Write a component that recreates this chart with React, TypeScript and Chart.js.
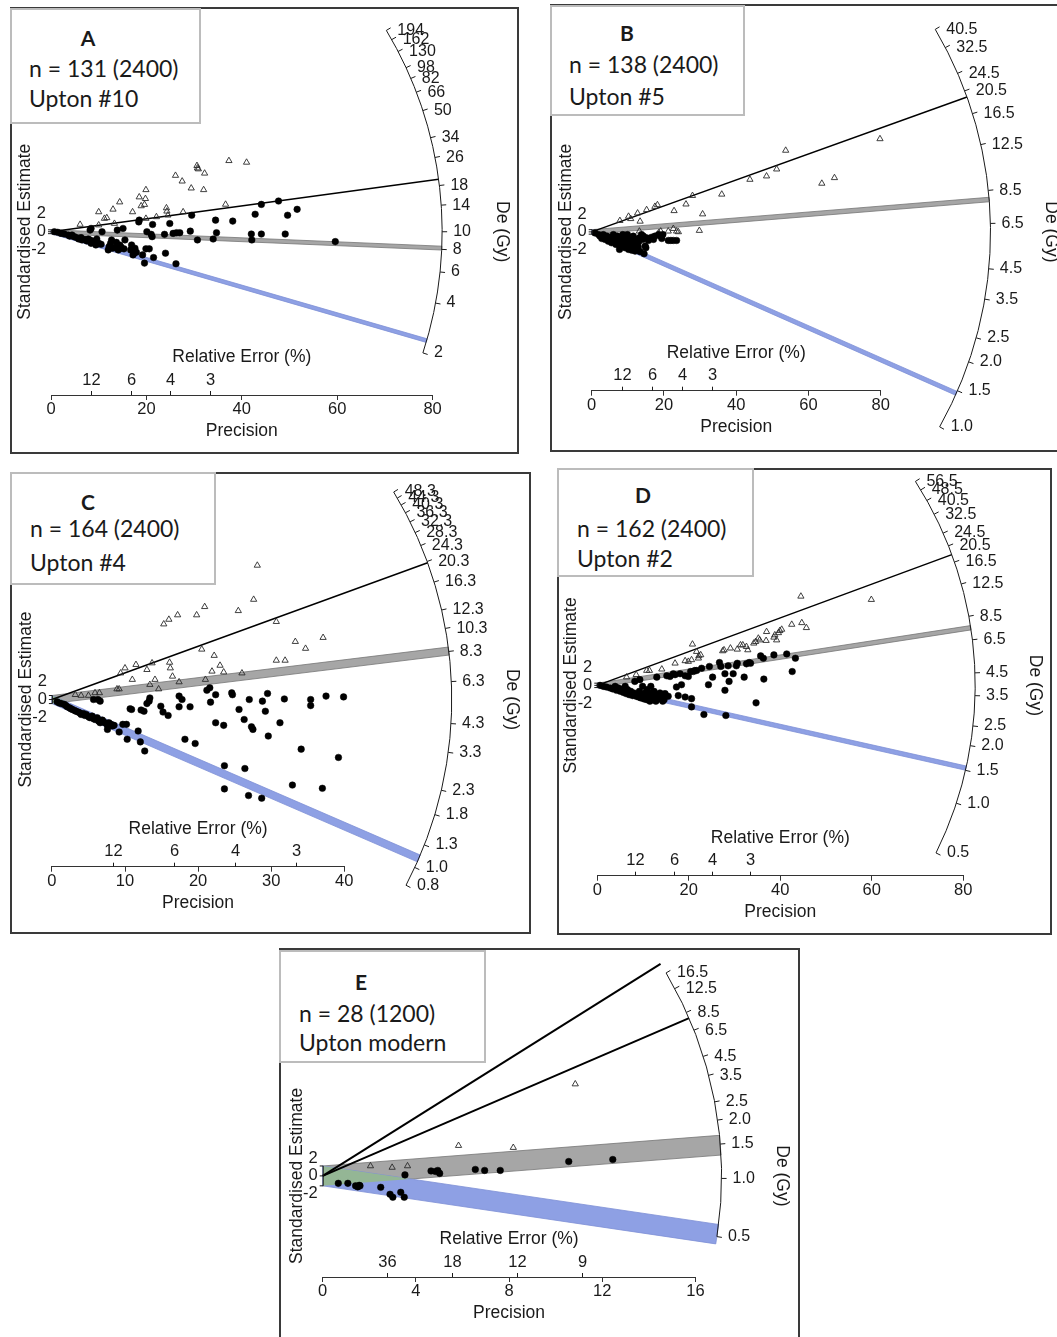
import React, { useEffect, useRef } from 'react';
import { Chart, registerables } from 'chart.js';

Chart.register(...registerables);

type Pt = [number, number];

// ---------------- Panel A ----------------
const A_TITLE = 'A';
const A_N = 'n = 131 (2400)';
const A_SITE = 'Upton #10';
const A_CIRCLES: Pt[] = [
  [0.7, 0], [1.4, -0.6], [2.1, -1.7], [2.8, -2.4], [3.6, -3.4], [3.9, -4.5], [4.4, -3.4], [4.8, -5.1], [5.3, -5.9],
  [5.8, -7.5], [6.3, -6.1], [6.5, -8.5], [7.1, -7.9], [7.5, -9.6], [7.8, -7.5], [8.2, -8.5], [8.4, -12.0], [8.7, -10.2],
  [9.1, -9.6], [9.4, -13.7], [9.6, -7.5], [10.0, -12.0], [10.5, -13.0], [10.7, 0], [8.2, 1.7], [8.4, 3.4], [12.0, -18.8],
  [12.2, -15.4], [12.5, -12.0], [12.7, -8.5], [12.9, -17.1], [13.4, -16.4], [13.7, -11.0], [13.9, 1.7], [14.1, -18.8],
  [14.4, -13.7], [14.6, -15.4], [14.8, -17.1], [15.1, 3.4], [15.3, -17.7], [15.5, -8.5], [16.7, -18.8], [16.9, -13.7],
  [17.2, -24.0], [17.4, -22.2], [17.6, -17.1], [17.9, -21.2], [18.4, 10.2], [18.5, 12.0], [19.2, -24.0], [19.6, -32.5],
  [19.9, -17.7], [20.1, 0], [20.6, -17.7], [21.0, -2.7], [21.2, -5.1], [21.3, 7.5], [21.5, -26.7], [23.8, -2.7],
  [24.0, -22.2], [24.9, 8.5], [25.6, -1.7], [26.2, -33.2], [26.3, -1.0], [27.0, -1.0], [29.2, 0.6], [29.5, 17.1],
  [30.7, -8.5], [34.0, -7.5], [34.5, 12.0], [34.7, -1.0], [38.1, 11.0], [42.0, -2.4], [42.1, -8.5], [42.8, 18.1],
  [44.1, 28.3], [44.1, -2.4], [47.7, 31.8], [49.1, -2.4], [49.6, 17.1], [51.6, 23.2], [59.6, -10.2],
];
const A_TRIANGLES: Pt[] = [
  [6.1, 7.5], [10.0, 20.5], [10.0, 6.9], [11.2, 13.7], [11.7, 14.4], [13.0, 23.2], [13.3, 8.5], [14.4, 30.7],
  [17.1, 20.5], [18.5, 35.9], [18.9, 26.7], [19.6, 28.1], [19.8, 34.2], [19.9, 43.4], [19.9, 13.7], [22.1, 15.4],
  [24.2, 24.6], [24.3, 21.2], [24.5, 17.1], [26.1, 58.2], [27.5, 52.3], [27.7, 20.5], [29.4, 45.1], [30.6, 68.4],
  [30.7, 65.9], [30.9, 64.9], [32.0, 43.4], [32.2, 60.5], [36.6, 28.3], [37.3, 73.5], [41.0, 71.8],
];
const A_DE_TICKS = [2, 4, 6, 8, 10, 14, 18, 26, 34, 50, 66, 82, 98, 130, 162, 194];
const A_RE_TICKS = [12, 6, 4, 3];
const A_PRECISION_MAX = 80;
const A_PRECISION_STEP = 20;
const A_REF_DE = 10;
const A_LINE_DE = [19.5];
const A_CENTRAL_DE = 8.13;
const A_MIN_DE = 2.39;

// ---------------- Panel B ----------------
const B_TITLE = 'B';
const B_N = 'n = 138 (2400)';
const B_SITE = 'Upton #5';
const B_CIRCLES: Pt[] = [
  [0.9, -0.9], [1.9, -2.4], [2.3, -3.8], [2.8, -5.9], [3.2, -2.4], [3.7, -6.7], [4.2, -3.8], [4.6, -8.3], [5.1, -4.7],
  [5.5, -9.7], [6.0, -2.4], [6.2, -6.7], [6.7, -11.2], [7.1, -3.8], [7.4, -8.3], [7.7, -15.6], [7.8, -12.6], [8.3, -5.9],
  [8.6, -2.4], [8.8, -9.7], [9.2, -14.1], [9.5, -5.9], [9.7, -11.2], [9.9, -2.4], [10.2, -15.6], [10.4, -8.3], [10.6, -5.3],
  [10.8, -12.6], [11.1, -16.4], [11.4, -9.7], [11.5, -3.8], [11.8, -14.1], [12.0, -17.1], [12.3, -6.7], [12.5, -10.6],
  [12.6, -15.6], [12.9, -13.5], [13.2, -5.3], [13.4, -17.6], [13.8, -2.4], [14.1, -6.7], [14.3, -3.8], [14.5, -19.4],
  [14.8, -12.6], [15.0, -14.1], [15.2, -5.3], [15.7, -7.6], [16.1, -5.9], [16.6, -4.7], [17.1, -6.7], [17.5, -3.8],
  [18.5, -2.4], [19.1, -3.8], [19.4, -5.9], [19.7, -2.4], [21.2, -7.6], [21.9, -7.6], [22.6, -7.6], [23.5, -7.6],
  [5.0, -6.0], [6.5, -5.0], [7.0, -9.5], [8.0, -7.5], [9.0, -4.5], [10.0, -10.5], [11.0, -7.0], [12.0, -12.0],
  [13.0, -9.0], [3.0, -4.2], [4.0, -5.5],
];
const B_TRIANGLES: Pt[] = [
  [7.8, 10.0], [10.2, 13.8], [10.8, 11.7], [12.7, 16.7], [13.4, 9.4], [15.2, 19.7], [17.5, 22.6], [18.2, 24.1],
  [13.2, 0.6], [22.8, 18.8], [26.1, 24.7], [27.9, 32.3], [30.7, 15.9], [36.0, 33.5], [43.8, 46.7], [48.4, 49.7],
  [51.2, 55.9], [53.7, 72.6], [63.7, 43.2], [67.2, 48.2], [79.8, 82.9], [29.8, 1.2], [22.6, 2.9], [23.5, 0.6],
  [24.0, 0], [19.1, 0.6], [18.5, -0.9], [21.2, 0.6],
];
const B_DE_TICKS = [1.0, 1.5, 2.0, 2.5, 3.5, 4.5, 6.5, 8.5, 12.5, 16.5, 20.5, 24.5, 32.5, 40.5];
const B_RE_TICKS = [12, 6, 4, 3];
const B_PRECISION_MAX = 80;
const B_PRECISION_STEP = 20;
const B_REF_DE = 6.07;
const B_LINE_DE = [19.3];
const B_CENTRAL_DE = 7.89;
const B_MIN_DE = 1.46;

// ---------------- Panel C ----------------
const C_TITLE = 'C';
const C_N = 'n = 164 (2400)';
const C_SITE = 'Upton #4';
const C_CIRCLES: Pt[] = [
  [0.7, -1.1], [1.0, -1.7], [1.3, -2.0], [1.7, -2.4], [1.9, -3.0], [2.1, -3.6], [2.4, -4.1], [2.6, -4.6], [2.8, -4.9],
  [3.1, -5.4], [3.3, -5.8], [3.6, -6.2], [3.8, -6.6], [4.0, -7.4], [4.3, -6.9], [4.5, -7.9], [4.7, -7.4], [5.0, -8.5],
  [5.2, -9.0], [5.5, -8.2], [5.7, -9.5], [5.9, -9.9], [6.2, -9.0], [6.4, -10.7], [6.6, -11.5], [6.9, -10.2], [7.1, -11.2],
  [7.4, -11.8], [7.6, -12.8], [7.8, -11.5], [8.1, -12.3], [8.3, -13.1], [8.5, -12.8], [5.7, 0], [6.3, 0], [6.6, -0.8],
  [7.6, -14.8], [9.2, -16.1], [9.7, -12.3], [10.2, -12.3], [10.3, -19.7], [10.7, -4.6], [10.9, -4.9], [11.8, -15.6],
  [12.1, -21.0], [12.2, -5.2], [12.7, -25.5], [12.6, -5.8], [13.0, -2.0], [13.3, -0.8], [13.4, 0.8], [14.9, -3.3],
  [15.2, -6.2], [15.9, -7.9], [17.4, 1.7], [17.4, -3.6], [17.8, 0], [18.2, -19.7], [18.9, -3.6], [19.6, -21.8],
  [21.2, 4.6], [21.6, 5.8], [21.7, -1.3], [22.4, 2.4], [22.4, -11.5], [23.5, -12.8], [23.6, -32.8], [23.6, -44.3],
  [24.6, 3.3], [24.7, 2.4], [25.6, -4.9], [26.3, -9.9], [26.4, -34.2], [27.0, 0], [27.3, -13.5], [27.5, -14.8],
  [26.9, -47.6], [28.7, -48.9], [28.8, -0.8], [29.2, -5.8], [29.5, 3.0], [29.6, -18.1], [31.2, -11.5], [31.8, 0.3],
  [32.9, -42.4], [34.1, -24.6], [35.4, 0], [35.4, -3.0], [37.0, -44.0], [37.5, 1.7], [39.2, -28.7], [39.9, 1.3],
];
const C_TRIANGLES: Pt[] = [
  [3.2, 2.4], [4.0, 2.0], [5.0, 2.0], [5.9, 3.3], [6.5, 3.3], [8.9, 5.2], [9.2, 5.2], [9.4, 13.1], [10.0, 15.6],
  [11.0, 9.9], [11.5, 17.3], [13.0, 14.8], [13.4, 7.4], [13.7, 18.1], [14.1, 9.9], [14.6, 5.2], [15.3, 37.4],
  [16.0, 39.7], [16.1, 18.4], [16.2, 15.6], [16.5, 11.5], [17.2, 41.9], [17.4, 8.7], [19.8, 41.9], [20.5, 24.9],
  [20.9, 46.0], [21.0, 9.9], [21.9, 14.0], [22.2, 21.8], [23.0, 16.9], [23.5, 13.6], [25.5, 44.0], [26.0, 13.1],
  [27.6, 49.6], [28.1, 66.5], [30.7, 38.6], [30.7, 19.4], [31.9, 19.4], [33.3, 28.7], [34.7, 25.3], [37.1, 30.7],
];
const C_DE_TICKS = [0.8, 1.0, 1.3, 1.8, 2.3, 3.3, 4.3, 6.3, 8.3, 10.3, 12.3, 16.3, 20.3, 24.3, 28.3, 32.3, 36.3, 40.3, 44.3, 48.3];
const C_RE_TICKS = [12, 6, 4, 3];
const C_PRECISION_MAX = 40;
const C_PRECISION_STEP = 10;
const C_REF_DE = 5.35;
const C_LINE_DE = [20.0];
const C_CENTRAL_DE = 8.33;
const C_MIN_DE = 1.114;

// ---------------- Panel D ----------------
const D_TITLE = 'D';
const D_N = 'n = 162 (2400)';
const D_SITE = 'Upton #2';
const D_CIRCLES: Pt[] = [
  [0.6, 0], [1.3, -0.9], [2.0, -1.5], [2.8, -2.4], [3.4, -3.3], [3.9, -0.9], [4.2, -4.5], [4.6, -2.4], [5.0, -5.4],
  [5.3, -3.3], [5.7, -6.4], [6.1, -0.9], [6.3, -7.5], [6.6, -3.9], [7.0, -8.5], [7.3, -5.4], [7.7, -9.3], [8.0, -6.9],
  [8.2, 3.6], [8.5, -9.9], [8.7, -7.8], [9.0, -10.6], [9.2, -5.4], [9.3, 5.2], [9.5, -11.4], [9.7, -9.3], [9.9, -0.9],
  [10.2, -12.3], [10.4, -6.9], [10.6, -9.9], [10.8, -13.0], [10.9, -3.9], [11.1, -8.5], [11.4, -10.6], [11.5, -14.4],
  [11.7, -0.9], [11.9, -6.9], [12.1, -11.4], [12.2, -13.0], [12.4, -5.4], [12.6, -9.9], [12.8, -14.4], [13.0, 7.5],
  [13.1, -13.0], [13.3, -8.5], [13.7, -6.9], [14.1, -9.9], [14.3, -14.4], [14.6, -13.0], [14.8, -7.5], [15.2, 8.7],
  [15.5, -9.9], [15.9, 8.1], [16.6, 10.6], [17.0, 9.7], [17.3, -1.5], [17.7, -9.3], [18.1, 10.6], [18.4, 0.6],
  [19.2, 8.7], [19.2, -10.6], [19.9, 8.1], [20.6, -19.6], [20.6, -12.1], [20.4, 12.6], [21.0, 12.6], [21.3, 13.5],
  [21.7, 13.5], [22.8, 15.6], [23.3, -26.5], [24.3, 0.6], [24.5, 17.2], [25.2, 7.5], [26.7, 20.8], [27.0, 17.2],
  [27.9, -4.5], [27.9, 10.6], [28.6, 17.8], [28.8, 3.6], [29.7, 10.6], [30.4, 17.8], [30.6, 20.1], [32.1, 7.5],
  [32.6, 19.6], [33.2, 20.8], [33.5, 20.1], [34.7, -15.9], [35.7, 26.8], [36.3, 24.7], [36.4, 5.7], [38.6, 27.7],
  [41.4, 28.6], [42.6, 12.6], [43.3, 24.7], [28.1, -27.4],
];
const D_TRIANGLES: Pt[] = [
  [6.4, 7.5], [8.5, 9.7], [10.8, 13.5], [11.4, 13.5], [14.1, 14.7], [17.0, 20.1], [19.2, 22.3], [19.9, 21.7],
  [20.6, 23.2], [20.8, 37.4], [21.7, 30.7], [22.1, 24.7], [22.2, 26.8], [22.6, 27.7], [27.4, 31.3], [27.7, 32.2],
  [29.1, 33.8], [30.6, 32.8], [31.3, 36.7], [31.8, 36.7], [32.6, 35.2], [32.9, 32.2], [34.2, 38.3], [34.6, 39.7],
  [35.2, 42.8], [35.5, 41.2], [36.9, 40.7], [37.0, 48.8], [38.6, 43.7], [38.8, 45.8], [39.2, 41.2], [39.6, 47.8],
  [39.9, 49.7], [40.3, 50.9], [42.5, 55.4], [44.5, 81.0], [44.7, 56.9], [45.7, 52.4], [59.9, 78.0],
];
const D_DE_TICKS = [0.5, 1.0, 1.5, 2.0, 2.5, 3.5, 4.5, 6.5, 8.5, 12.5, 16.5, 20.5, 24.5, 32.5, 40.5, 48.5, 56.5];
const D_RE_TICKS = [12, 6, 4, 3];
const D_PRECISION_MAX = 80;
const D_PRECISION_STEP = 20;
const D_REF_DE = 3.92;
const D_LINE_DE = [18.2];
const D_CENTRAL_DE = 7.45;
const D_MIN_DE = 1.54;

// ---------------- Panel E ----------------
const E_TITLE = 'E';
const E_N = 'n = 28 (1200)';
const E_SITE = 'Upton modern';
const E_CIRCLES: Pt[] = [
  [0.67, -1.5], [1.08, -1.5], [1.41, -2.0], [1.5, -2.2], [1.53, -2.1], [1.57, -1.9], [1.6, -2.0], [2.49, -2.3],
  [2.89, -3.7], [3.01, -4.3], [3.35, -3.3], [3.5, -4.3], [3.53, 0.2], [4.65, 1.0], [4.84, 0.9], [4.94, 1.1],
  [5.02, 0.5], [6.55, 1.3], [6.95, 1.1], [7.62, 1.1], [10.56, 2.9], [12.45, 3.3],
];
const E_TRIANGLES: Pt[] = [[2.05, 2.0], [2.98, 1.7], [3.64, 2.0], [5.83, 6.1], [8.18, 5.7], [10.84, 18.5]];
const E_DE_TICKS = [0.5, 1.0, 1.5, 2.0, 2.5, 3.5, 4.5, 6.5, 8.5, 12.5, 16.5];
const E_RE_TICKS = [36, 18, 12, 9];
const E_PRECISION_MAX = 16;
const E_PRECISION_STEP = 4;
const E_REF_DE = 1.03;
const E_LINE_DE = [19.6, 7.77];
const E_CENTRAL_DE = 1.48;
const E_MIN_DE = 0.515;

const Y_TICKS = [2, 0, -2];

// ---------------- styling / layout ----------------
const AX_FONT = '"Liberation Sans", Arial, Helvetica, sans-serif';
const BOX_FONT = 'Lato, "Open Sans", "DejaVu Sans", sans-serif';
const INK = '#1a1a1a';

const PANELS = [
  {
    title: A_TITLE, n: A_N, site: A_SITE, circles: A_CIRCLES, triangles: A_TRIANGLES, deTicks: A_DE_TICKS,
    reTicks: A_RE_TICKS, xMax: A_PRECISION_MAX, xStep: A_PRECISION_STEP, refDe: A_REF_DE, lineDe: A_LINE_DE,
    centralDe: A_CENTRAL_DE, minDe: A_MIN_DE, deDecimals: 0, lineW: 1.5,
    geo: { frame: [10, 7, 519, 454], box: [10, 8, 201, 124], origin: [51, 230.5], ppx: 4.77, axisY: 395, aspect: 0.204, arcR: 82,
      letter: [88, 38], textLeft: 29, nY: 68, siteY: 98 },
  },
  {
    title: B_TITLE, n: B_N, site: B_SITE, circles: B_CIRCLES, triangles: B_TRIANGLES, deTicks: B_DE_TICKS,
    reTicks: B_RE_TICKS, xMax: B_PRECISION_MAX, xStep: B_PRECISION_STEP, refDe: B_REF_DE, lineDe: B_LINE_DE,
    centralDe: B_CENTRAL_DE, minDe: B_MIN_DE, deDecimals: 1, lineW: 1.5,
    geo: { frame: [550, 4, 1068, 452], box: [550, 5, 745, 116], origin: [591.7, 230.7], ppx: 3.6125, axisY: 390.7, aspect: 0.313, arcR: 110.4,
      letter: [627, 33], textLeft: 569, nY: 64, siteY: 96 },
  },
  {
    title: C_TITLE, n: C_N, site: C_SITE, circles: C_CIRCLES, triangles: C_TRIANGLES, deTicks: C_DE_TICKS,
    reTicks: C_RE_TICKS, xMax: C_PRECISION_MAX, xStep: C_PRECISION_STEP, refDe: C_REF_DE, lineDe: C_LINE_DE,
    centralDe: C_CENTRAL_DE, minDe: C_MIN_DE, deDecimals: 1, lineW: 1.5,
    geo: { frame: [10, 472, 531, 934], box: [10, 472, 216, 585], origin: [51.9, 698.3], ppx: 7.31, axisY: 866.7, aspect: 0.278, arcR: 54.7,
      letter: [88, 502], textLeft: 30, nY: 528, siteY: 562 },
  },
  {
    title: D_TITLE, n: D_N, site: D_SITE, circles: D_CIRCLES, triangles: D_TRIANGLES, deTicks: D_DE_TICKS,
    reTicks: D_RE_TICKS, xMax: D_PRECISION_MAX, xStep: D_PRECISION_STEP, refDe: D_REF_DE, lineDe: D_LINE_DE,
    centralDe: D_CENTRAL_DE, minDe: D_MIN_DE, deDecimals: 1, lineW: 1.5,
    geo: { frame: [557, 468, 1052, 935], box: [557, 468, 754, 577], origin: [597.3, 684], ppx: 4.575, axisY: 875.7, aspect: 0.242, arcR: 82.6,
      letter: [643, 495], textLeft: 577, nY: 528, siteY: 558 },
  },
  {
    title: E_TITLE, n: E_N, site: E_SITE, circles: E_CIRCLES, triangles: E_TRIANGLES, deTicks: E_DE_TICKS,
    reTicks: E_RE_TICKS, xMax: E_PRECISION_MAX, xStep: E_PRECISION_STEP, refDe: E_REF_DE, lineDe: E_LINE_DE,
    centralDe: E_CENTRAL_DE, minDe: E_MIN_DE, deDecimals: 1, lineW: 2,
    geo: { frame: [279, 948, 800, 1350], box: [279, 950, 486, 1063], origin: [322.7, 1175], ppx: 23.3, axisY: 1277, aspect: 0.215, arcR: 17.12,
      letter: [361, 982], textLeft: 299, nY: 1013, siteY: 1042 },
  },
];

function makeRadialPlugin(p: any) {
  const geom = (chart: any) => {
    const xs = chart.scales.x;
    const ys = chart.scales.y;
    const ox = xs.getPixelForValue(0);
    const oy = ys.getPixelForValue(0);
    const ppx = xs.getPixelForValue(1) - ox;
    const ppy = oy - ys.getPixelForValue(1);
    const R = p.geo.arcR * ppx;
    const angle = (de: number) => Math.atan((Math.log(de / p.refDe) * ppy) / ppx);
    return { xs, ys, ox, oy, ppx, ppy, R, angle };
  };

  const bandPoly = (g: any, de: number) => {
    const m = Math.log(de / p.refDe);
    const { ox, oy, ppx, ppy, R } = g;
    const hit = (b: number) => {
      const a = ppx * ppx + m * m * ppy * ppy;
      const bb = 2 * m * b * ppy * ppy;
      const c = b * b * ppy * ppy - R * R;
      return (-bb + Math.sqrt(bb * bb - 4 * a * c)) / (2 * a);
    };
    const tu = hit(2);
    const tl = hit(-2);
    const px = (x: number, y: number) => [ox + x * ppx, oy - y * ppy];
    return [px(0, 2), px(tu, m * tu + 2), px(tl, m * tl - 2), px(0, -2)];
  };

  const path = (ctx: any, pts: number[][]) => {
    ctx.beginPath();
    pts.forEach((q, i) => (i ? ctx.lineTo(q[0], q[1]) : ctx.moveTo(q[0], q[1])));
    ctx.closePath();
  };

  return {
    id: 'radial',
    beforeDatasetsDraw(chart: any) {
      const ctx = chart.ctx;
      const g = geom(chart);
      const gray = bandPoly(g, p.centralDe);
      const blue = bandPoly(g, p.minDe);
      ctx.save();
      path(ctx, gray);
      ctx.fillStyle = '#a6a6a6';
      ctx.fill();
      ctx.strokeStyle = '#767676';
      ctx.lineWidth = 0.8;
      ctx.stroke();
      path(ctx, blue);
      ctx.fillStyle = '#8ea0e4';
      ctx.fill();
      ctx.strokeStyle = '#7d8fd6';
      ctx.stroke();
      ctx.save();
      path(ctx, blue);
      ctx.clip();
      path(ctx, gray);
      ctx.fillStyle = '#94b695';
      ctx.fill();
      ctx.restore();
      ctx.strokeStyle = '#000';
      ctx.lineWidth = p.lineW;
      for (const de of p.lineDe) {
        const a = g.angle(de);
        ctx.beginPath();
        ctx.moveTo(g.ox, g.oy);
        ctx.lineTo(g.ox + g.R * Math.cos(a), g.oy - g.R * Math.sin(a));
        ctx.stroke();
      }
      ctx.restore();
    },
    afterDraw(chart: any) {
      const ctx = chart.ctx;
      const area = chart.chartArea;
      const g = geom(chart);
      const { ox, oy, ppy, R } = g;
      ctx.save();
      ctx.strokeStyle = INK;
      ctx.fillStyle = INK;
      ctx.lineWidth = 1;

      // De arc
      const angs = p.deTicks.map((d: number) => g.angle(d));
      const aMax = Math.max(...angs);
      const aMin = Math.min(...angs);
      ctx.beginPath();
      ctx.arc(ox, oy, R, -aMax, -aMin);
      ctx.stroke();
      ctx.font = `16px ${AX_FONT}`;
      ctx.textAlign = 'left';
      ctx.textBaseline = 'middle';
      p.deTicks.forEach((de: number, i: number) => {
        const a = angs[i];
        const c = Math.cos(a);
        const s = Math.sin(a);
        const x = ox + R * c;
        const y = oy - R * s;
        ctx.beginPath();
        ctx.moveTo(x, y);
        ctx.lineTo(ox + (R + 5) * c, oy - (R + 5) * s);
        ctx.stroke();
        ctx.fillText(de.toFixed(p.deDecimals), x + 11, y);
      });
      ctx.font = `17.5px ${AX_FONT}`;
      ctx.textAlign = 'center';
      ctx.save();
      ctx.translate(ox + R + 60, oy);
      ctx.rotate(Math.PI / 2);
      ctx.fillText('De (Gy)', 0, 0);
      ctx.restore();

      // standardised estimate axis
      ctx.beginPath();
      ctx.moveTo(ox + 0.5, oy - 2 * ppy);
      ctx.lineTo(ox + 0.5, oy + 2 * ppy);
      for (const v of Y_TICKS) {
        const yy = oy - v * ppy;
        ctx.moveTo(ox + 0.5, yy);
        ctx.lineTo(ox - 3, yy);
      }
      ctx.stroke();
      ctx.font = `16.5px ${AX_FONT}`;
      ctx.textAlign = 'right';
      for (const v of Y_TICKS) ctx.fillText(String(v), ox - 5, oy - v * 8.9);
      ctx.font = `17.5px ${AX_FONT}`;
      ctx.textAlign = 'center';
      ctx.save();
      ctx.translate(ox - 26, oy);
      ctx.rotate(-Math.PI / 2);
      ctx.fillText('Standardised Estimate', 0, 0);
      ctx.restore();

      // relative error axis (shares the precision axis line)
      const ay = area.bottom;
      ctx.font = `16.5px ${AX_FONT}`;
      ctx.textAlign = 'center';
      for (const re of p.reTicks) {
        const x = Math.round(g.xs.getPixelForValue(100 / re)) + 0.5;
        ctx.beginPath();
        ctx.moveTo(x, ay);
        ctx.lineTo(x, ay - 4);
        ctx.stroke();
        ctx.fillText(String(re), x, ay - 15);
      }
      ctx.font = `17.5px ${AX_FONT}`;
      ctx.fillText('Relative Error (%)', (area.left + area.right) / 2, ay - 38);
      ctx.restore();
    },
  };
}

function RadialPanel({ p }: { p: any }) {
  const ref = useRef<HTMLCanvasElement | null>(null);
  const [fl, ft, fr, fb] = p.geo.frame;
  const W = fr - fl;
  const H = fb - ft;

  useEffect(() => {
    const g = p.geo;
    const ox = g.origin[0] - fl;
    const oy = g.origin[1] - ft;
    const axisY = g.axisY - ft;
    const plotRight = ox + p.xMax * g.ppx;
    const ppy = g.ppx * g.aspect;
    const TOP = 2;
    const XH = 50;
    const chart = new Chart(ref.current as HTMLCanvasElement, {
      type: 'scatter',
      data: {
        datasets: [
          {
            data: p.circles, pointStyle: 'circle', pointRadius: 3.3, pointBorderWidth: 0.5,
            pointBorderColor: '#000', pointBackgroundColor: '#000', clip: false,
          },
          {
            data: p.triangles, pointStyle: 'triangle', pointRadius: 3.6, pointBorderWidth: 0.9,
            pointBorderColor: '#2a2a2a', pointBackgroundColor: 'rgba(255,255,255,0)', clip: false,
          },
        ],
      },
      options: {
        responsive: false,
        maintainAspectRatio: false,
        animation: false,
        events: [],
        layout: { padding: { left: ox, right: W - plotRight, top: TOP, bottom: H - axisY - XH } },
        plugins: { legend: { display: false }, tooltip: { enabled: false } },
        scales: {
          x: {
            type: 'linear',
            position: 'bottom',
            min: 0,
            max: p.xMax,
            ticks: {
              stepSize: p.xStep, autoSkip: false, maxRotation: 0, padding: 0,
              font: { family: AX_FONT, size: 16.5 }, color: INK,
            },
            grid: { display: true, drawOnChartArea: false, drawTicks: true, tickLength: 5, color: '#333', lineWidth: 1 },
            border: { display: true, color: '#333', width: 1 },
            title: {
              display: true, text: 'Precision', color: INK,
              font: { family: AX_FONT, size: 17.5 }, padding: { top: 0, bottom: 3 },
            },
            afterFit: (s: any) => {
              s.height = XH;
            },
          },
          y: {
            type: 'linear',
            display: false,
            min: -(axisY - oy) / ppy,
            max: (oy - TOP) / ppy,
          },
        },
      } as any,
      plugins: [makeRadialPlugin(p) as any],
    });
    return () => chart.destroy();
  }, [p]);

  const [bl, bt, br, bb] = p.geo.box;
  const g = p.geo;
  return (
    <>
      <canvas
        ref={ref}
        width={W}
        height={H}
        style={{ position: 'absolute', left: fl, top: ft, width: W, height: H }}
      />
      <div
        style={{
          position: 'absolute', left: fl, top: ft, width: W, height: H,
          border: '2px solid #3a3a3a', boxSizing: 'border-box', pointerEvents: 'none',
        }}
      />
      <div
        style={{
          position: 'absolute', left: bl, top: bt, width: br - bl, height: bb - bt,
          border: '2px solid #bcbcbc', boxSizing: 'border-box', background: '#fff',
        }}
      />
      <div
        style={{
          position: 'absolute', left: g.letter[0] - 40, top: g.letter[1] - 13, width: 80, height: 26,
          lineHeight: '26px', textAlign: 'center', font: `bold 21px ${BOX_FONT}`, color: INK,
        }}
      >
        {p.title}
      </div>
      <div
        style={{
          position: 'absolute', left: g.textLeft, top: g.nY - 14, height: 28, lineHeight: '28px',
          font: `23px ${BOX_FONT}`, color: INK, whiteSpace: 'nowrap',
        }}
      >
        {p.n}
      </div>
      <div
        style={{
          position: 'absolute', left: g.textLeft, top: g.siteY - 14, height: 28, lineHeight: '28px',
          font: `23px ${BOX_FONT}`, color: INK, whiteSpace: 'nowrap',
        }}
      >
        {p.site}
      </div>
    </>
  );
}

export default function App() {
  return (
    <div
      style={{
        position: 'absolute', left: 0, top: 0, width: 1057, height: 1337,
        overflow: 'hidden', background: '#fff',
      }}
    >
      {PANELS.map((p, i) => (
        <RadialPanel key={i} p={p} />
      ))}
    </div>
  );
}
